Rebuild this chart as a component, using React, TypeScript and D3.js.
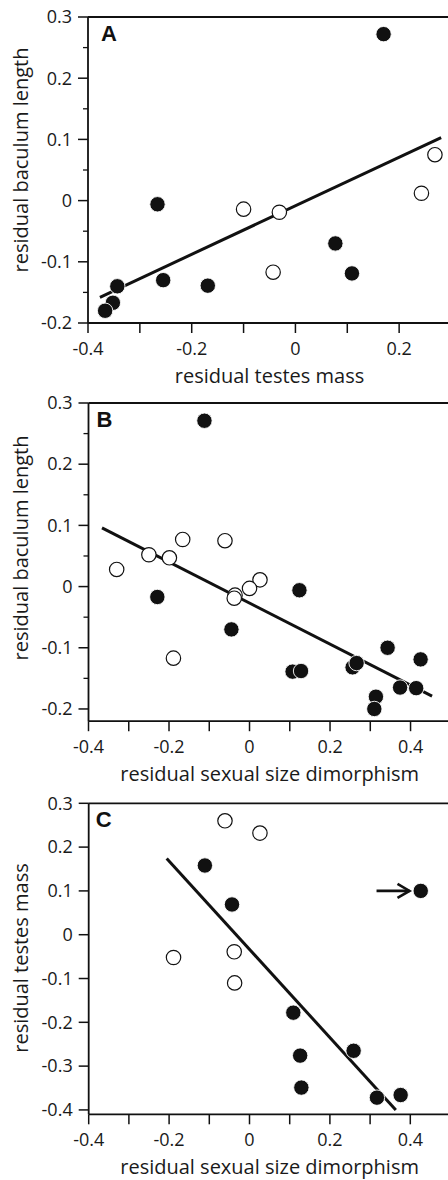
import React from "react";
import * as d3 from "d3";

// ---------- Data ----------
// Panel A: residual testes mass (x) vs residual baculum length (y)
const aFilledX = [0.170, -0.266, 0.077, 0.109, -0.3435, -0.255, -0.169, -0.352, -0.367];
const aFilledY = [0.272, -0.006, -0.070, -0.119, -0.140, -0.130, -0.139, -0.167, -0.180];
const aOpenX = [0.269, 0.243, -0.100, -0.031, -0.043];
const aOpenY = [0.075, 0.012, -0.014, -0.019, -0.117];
const aLineX = [-0.377, 0.281];
const aLineY = [-0.158, 0.103];

// Panel B: residual sexual size dimorphism (x) vs residual baculum length (y)
const bFilledX = [-0.112, -0.229, 0.124, -0.045, 0.343, 0.425, 0.256, 0.266, 0.107, 0.128, 0.374, 0.414, 0.314, 0.310];
const bFilledY = [0.271, -0.017, -0.006, -0.070, -0.100, -0.119, -0.132, -0.125, -0.139, -0.138, -0.165, -0.166, -0.180, -0.200];
const bOpenX = [-0.166, -0.061, -0.250, -0.199, -0.330, 0.026, 0.000, -0.036, -0.038, -0.189];
const bOpenY = [0.077, 0.075, 0.052, 0.047, 0.028, 0.011, -0.003, -0.014, -0.019, -0.117];
const bLineX = [-0.3665, 0.4534];
const bLineY = [0.096, -0.179];

// Panel C: residual sexual size dimorphism (x) vs residual testes mass (y)
const cFilledX = [-0.111, 0.426, -0.0435, 0.109, 0.126, 0.259, 0.129, 0.317, 0.376];
const cFilledY = [0.158, 0.100, 0.069, -0.178, -0.276, -0.265, -0.349, -0.372, -0.366];
const cOpenX = [-0.061, 0.026, -0.038, -0.189, -0.037];
const cOpenY = [0.260, 0.232, -0.039, -0.052, -0.110];
const cLineX = [-0.206, 0.364];
const cLineY = [0.174, -0.400];
const cArrowX = [0.316, 0.398];
const cArrowY = [0.100, 0.100];

// Ticks
const aXTicks = [-0.4, -0.3, -0.2, -0.1, 0, 0.1, 0.2, 0.3];
const aXLabels = ["-0.4", "-0.2", "0", "0.2"];
const aYTicks = [-0.2, -0.1, 0, 0.1, 0.2, 0.3];
const aYLabels = ["-0.2", "-0.1", "0", "0.1", "0.2", "0.3"];
const bXTicks = [-0.4, -0.3, -0.2, -0.1, 0, 0.1, 0.2, 0.3, 0.4, 0.5];
const bXLabels = ["-0.4", "-0.2", "0", "0.2", "0.4"];
const bYTicks = [-0.2, -0.1, 0, 0.1, 0.2, 0.3];
const bYLabels = ["-0.2", "-0.1", "0", "0.1", "0.2", "0.3"];
const cXTicks = [-0.4, -0.3, -0.2, -0.1, 0, 0.1, 0.2, 0.3, 0.4, 0.5];
const cXLabels = ["-0.4", "-0.2", "0", "0.2", "0.4"];
const cYTicks = [-0.4, -0.3, -0.2, -0.1, 0, 0.1, 0.2, 0.3];
const cYLabels = ["-0.4", "-0.3", "-0.2", "-0.1", "0", "0.1", "0.2", "0.3"];

const FONT = "'Open Sans', sans-serif";

type PanelProps = {
  letter: string;
  letterDx: number;
  xDomain: [number, number];
  xRange: [number, number];
  yDomain: [number, number];
  yRange: [number, number];
  xTicks: number[];
  xLabels: string[];
  yTicks: number[];
  yLabels: string[];
  minorY: boolean;
  filledX: number[];
  filledY: number[];
  openX: number[];
  openY: number[];
  lineX: number[];
  lineY: number[];
  xTitle: string;
  yTitle: string;
  yTitleCenter: number;
  arrowX?: number[];
  arrowY?: number[];
};

function Panel(p: PanelProps) {
  const x = d3.scaleLinear().domain(p.xDomain).range(p.xRange);
  const y = d3.scaleLinear().domain(p.yDomain).range(p.yRange);
  const left = p.xRange[0];
  const right = p.xRange[1];
  const bottom = p.yRange[0];
  const top = p.yRange[1];
  const line = d3.line<number>().x((_, i) => x(p.lineX[i])).y((_, i) => y(p.lineY[i]));
  const minor: number[] = [];
  if (p.minorY) {
    for (let i = 0; i < p.yTicks.length - 1; i++) minor.push((p.yTicks[i] + p.yTicks[i + 1]) / 2);
  }
  const r = 7.7;
  return (
    <g>
      <path d={line(p.lineX) || ""} fill="none" stroke="#111" strokeWidth={3} />
      {p.arrowX && p.arrowY && (
        <g stroke="#111" strokeWidth={2.6} fill="none">
          <line x1={x(p.arrowX[0])} y1={y(p.arrowY[0])} x2={x(p.arrowX[1])} y2={y(p.arrowY[1])} />
          <polyline
            points={`${x(p.arrowX[1]) - 12},${y(p.arrowY[1]) - 7} ${x(p.arrowX[1])},${y(p.arrowY[1])} ${x(p.arrowX[1]) - 12},${y(p.arrowY[1]) + 7}`}
          />
        </g>
      )}
      {p.openX.map((v, i) => (
        <circle key={"o" + i} cx={x(v)} cy={y(p.openY[i])} r={r - 0.5} fill="#fff" stroke="#111" strokeWidth={1.2} />
      ))}
      {p.filledX.map((v, i) => (
        <circle key={"f" + i} cx={x(v)} cy={y(p.filledY[i])} r={r} fill="#111" stroke="#fff" strokeWidth={0.9} />
      ))}
      <line x1={left} y1={top} x2={left} y2={bottom} stroke="#111" strokeWidth={1.8} />
      <line x1={left} y1={bottom} x2={right + 2} y2={bottom} stroke="#111" strokeWidth={1.8} />
      <line x1={left} y1={top} x2={right + 2} y2={top} stroke="#111" strokeWidth={1.8} />
      <line x1={right} y1={top} x2={right} y2={bottom} stroke="#111" strokeWidth={1.8} />
      {p.yTicks.map((t, i) => (
        <g key={"yt" + i}>
          <line x1={left - 10} x2={left} y1={y(t)} y2={y(t)} stroke="#111" strokeWidth={1.5} />
          <text x={left - 16} y={y(t)} dy="0.35em" textAnchor="end" fontSize={18} fontFamily={FONT} fill="#1a1a1a">
            {p.yLabels[i]}
          </text>
        </g>
      ))}
      {minor.map((t, i) => (
        <line key={"ym" + i} x1={left - 5} x2={left} y1={y(t)} y2={y(t)} stroke="#111" strokeWidth={1.3} />
      ))}
      {p.xTicks.map((t, i) => (
        <line key={"xt" + i} x1={x(t)} x2={x(t)} y1={bottom} y2={bottom + 10} stroke="#111" strokeWidth={1.5} />
      ))}
      {p.xLabels.map((s, i) => (
        <text key={"xl" + i} x={x(+s)} y={bottom + 32} textAnchor="middle" fontSize={18} fontFamily={FONT} fill="#1a1a1a">
          {s}
        </text>
      ))}
      <text x={(left + right) / 2} y={bottom + 60} textAnchor="middle" fontSize={20} fontFamily={FONT} fill="#1a1a1a">
        {p.xTitle}
      </text>
      <text
        transform={`translate(28,${p.yTitleCenter}) rotate(-90)`}
        textAnchor="middle"
        fontSize={20}
        fontFamily={FONT}
        fill="#1a1a1a"
      >
        {p.yTitle}
      </text>
      <text x={left + p.letterDx} y={top + 24} fontSize={22} fontWeight="bold" fontFamily="'Liberation Sans', Arial, sans-serif" fill="#111">
        {p.letter}
      </text>
    </g>
  );
}

export default function App() {
  return (
    <svg width={448} height={1180} style={{ position: "absolute", left: 0, top: 0, background: "#fff" }}>
      <rect x={0} y={0} width={448} height={1180} fill="#fff" />
      <Panel
        letter="A"
        letterDx={13}
        xDomain={[-0.4, 0.3]}
        xRange={[88, 451]}
        yDomain={[-0.2, 0.3]}
        yRange={[323, 17]}
        xTicks={aXTicks}
        xLabels={aXLabels}
        yTicks={aYTicks}
        yLabels={aYLabels}
        minorY={true}
        filledX={aFilledX}
        filledY={aFilledY}
        openX={aOpenX}
        openY={aOpenY}
        lineX={aLineX}
        lineY={aLineY}
        xTitle="residual testes mass"
        yTitle="residual baculum length"
        yTitleCenter={160}
      />
      <Panel
        letter="B"
        letterDx={8}
        xDomain={[-0.4, 0.5]}
        xRange={[88.5, 450.8]}
        yDomain={[-0.22, 0.3]}
        yRange={[721.2, 403]}
        xTicks={bXTicks}
        xLabels={bXLabels}
        yTicks={bYTicks}
        yLabels={bYLabels}
        minorY={true}
        filledX={bFilledX}
        filledY={bFilledY}
        openX={bOpenX}
        openY={bOpenY}
        lineX={bLineX}
        lineY={bLineY}
        xTitle="residual sexual size dimorphism"
        yTitle="residual baculum length"
        yTitleCenter={548}
      />
      <Panel
        letter="C"
        letterDx={7}
        xDomain={[-0.4, 0.5]}
        xRange={[88.7, 450.5]}
        yDomain={[-0.41, 0.3]}
        yRange={[1114.3, 803.3]}
        xTicks={cXTicks}
        xLabels={cXLabels}
        yTicks={cYTicks}
        yLabels={cYLabels}
        minorY={false}
        filledX={cFilledX}
        filledY={cFilledY}
        openX={cOpenX}
        openY={cOpenY}
        lineX={cLineX}
        lineY={cLineY}
        xTitle="residual sexual size dimorphism"
        yTitle="residual testes mass"
        yTitleCenter={958}
        arrowX={cArrowX}
        arrowY={cArrowY}
      />
    </svg>
  );
}
